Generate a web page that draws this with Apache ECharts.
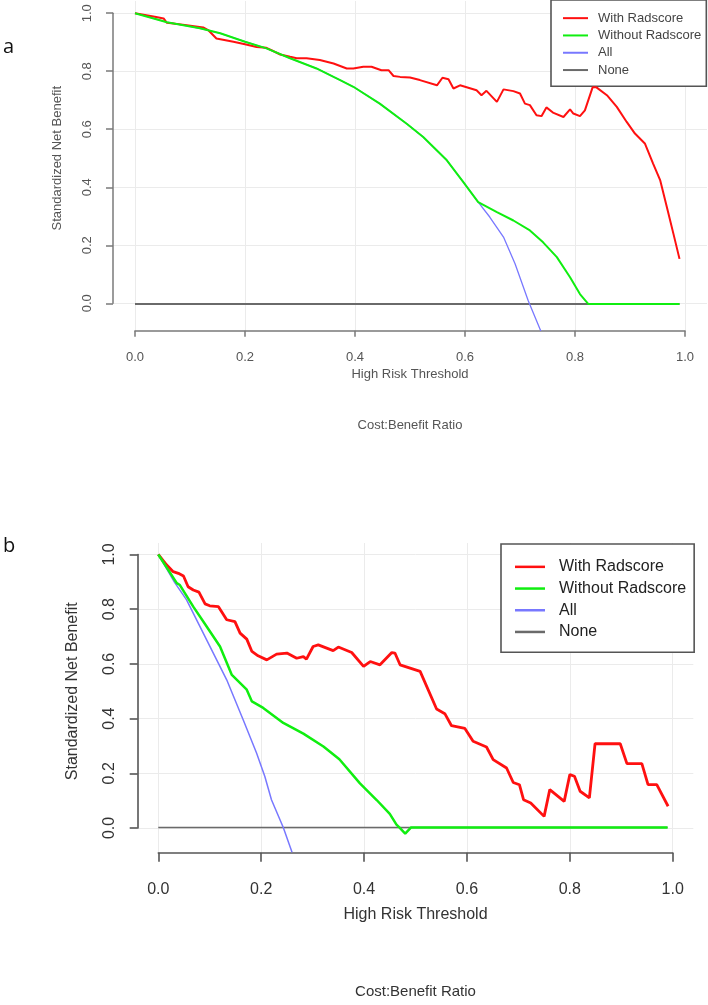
<!DOCTYPE html>
<html>
<head>
<meta charset="utf-8">
<script src="https://cdn.jsdelivr.net/npm/echarts@6/dist/echarts.min.js"></script>
<style>
html,body{margin:0;padding:0;background:#fff;}
#chart{width:708px;height:1005px;}
</style>
</head>
<body>
<div id="chart"></div>
<script>
// ---------- DATA ----------
const seriesNames = ['With Radscore', 'Without Radscore', 'All', 'None'];
const seriesColors = ['#ff1010', '#10ee10', '#7878ff', '#6a6a6a'];
const xTicks = [0, 0.2, 0.4, 0.6, 0.8, 1.0];
const yTicks = [0, 0.2, 0.4, 0.6, 0.8, 1.0];

// Panel a
const aRedX = [0,.036,.052,.058,.094,.124,.133,.148,.179,.2,.221,.239,.248,.264,.282,.294,.312,.336,.361,.385,.397,.415,.430,.448,.461,.470,.482,.5,.518,.549,.559,.570,.579,.591,.621,.630,.639,.658,.670,.688,.700,.709,.718,.730,.739,.748,.761,.779,.791,.797,.809,.818,.832,.839,.858,.876,.894,.909,.927,.942,.955,.970,.979,.99];
const aRedY = [1.0,.988,.982,.967,.959,.951,.942,.913,.902,.893,.884,.881,.873,.858,.850,.845,.845,.839,.827,.810,.810,.816,.816,.804,.804,.784,.781,.779,.770,.752,.778,.773,.741,.752,.735,.718,.733,.695,.738,.732,.724,.689,.684,.649,.646,.676,.657,.643,.669,.655,.646,.666,.745,.745,.718,.678,.626,.586,.552,.483,.425,.310,.241,.155];
const aGreenX = [0,.058,.118,.155,.2,.239,.282,.330,.361,.373,.397,.445,.494,.524,.567,.597,.624,.658,.688,.718,.742,.767,.791,.809,.824,.99];
const aGreenY = [1.0,.969,.948,.931,.902,.879,.845,.810,.781,.770,.747,.689,.620,.574,.494,.419,.350,.316,.287,.253,.212,.161,.092,.034,0,0];
const aBlueX = [0,.058,.118,.155,.2,.239,.282,.330,.361,.397,.445,.494,.524,.567,.597,.624,.645,.670,.691,.715,.738];
const aBlueY = [1.0,.969,.948,.931,.902,.879,.845,.810,.781,.747,.689,.620,.574,.494,.419,.350,.299,.230,.138,.011,-.094];
const aNoneX = [0, .99];
const aNoneY = [0, 0];

// Panel b
const bRedX = [0,.016,.029,.039,.049,.058,.068,.079,.091,.1,.117,.133,.149,.159,.172,.182,.194,.211,.230,.250,.269,.282,.288,.301,.311,.340,.350,.376,.399,.412,.431,.454,.460,.470,.509,.541,.557,.570,.596,.612,.638,.651,.677,.690,.702,.710,.724,.750,.761,.789,.800,.809,.820,.838,.849,.898,.911,.940,.952,.969,.991];
const bRedY = [1.0,.962,.937,.931,.921,.882,.870,.862,.819,.812,.809,.761,.754,.712,.690,.645,.629,.614,.635,.639,.620,.626,.617,.663,.669,.648,.661,.641,.590,.608,.596,.641,.639,.596,.572,.434,.417,.373,.363,.316,.295,.249,.218,.165,.157,.102,.090,.041,.139,.096,.194,.188,.133,.109,.307,.307,.234,.234,.157,.157,.078];
const bGreenX = [0,.036,.042,.068,.094,.12,.143,.172,.182,.204,.243,.282,.321,.352,.392,.425,.450,.463,.469,.480,.491,.99];
const bGreenY = [1.0,.895,.888,.809,.736,.663,.559,.505,.462,.438,.383,.344,.297,.250,.162,.100,.050,.011,0,-.022,0,0];
const bBlueX = [0,.032,.055,.094,.133,.165,.191,.207,.220,.243,.260];
const bBlueY = [1.0,.897,.834,.687,.541,.395,.273,.188,.102,0,-.090];
const bNoneX = [0, .99];
const bNoneY = [0, 0];

// ---------- BUILD ----------
function zip(xs, ys){ return xs.map((x,i)=>[x, ys[i]]); }
const FONT = '"Liberation Sans", Arial, sans-serif';

const panels = [
  { // a
    plot: {left:113, top:1, width:594, height:329.7},
    xg:   {left:135, top:1, width:550, height:329.7},
    yg:   {left:113, top:13.2, width:594, height:290.1},
    yRange: [-0.092, 1.042],
    font: 13, txt: '#555', axisCol: '#7a7a7a', axisW: 1.5,
    xTickLen: 6, yTickLen: 7, xLabMargin: 20, yLabMargin: 19,
    xNameGap: 37, yNameGap: 49,
    widths: [2, 2, 1.3, 2],
    series: [[aRedX,aRedY],[aGreenX,aGreenY],[aBlueX,aBlueY],[aNoneX,aNoneY]]
  },
  { // b
    plot: {left:137.7, top:543, width:555.6, height:309.7},
    xg:   {left:158.3, top:543, width:514.4, height:309.7},
    yg:   {left:137.7, top:554.5, width:555.6, height:273.5},
    yRange: [-0.092, 1.042],
    font: 16, txt: '#333', axisCol: '#555', axisW: 1.6,
    xTickLen: 9, yTickLen: 8, xLabMargin: 29, yLabMargin: 20,
    xNameGap: 54, yNameGap: 57,
    widths: [2.8, 2.5, 1.5, 1.6],
    series: [[bRedX,bRedY],[bGreenX,bGreenY],[bBlueX,bBlueY],[bNoneX,bNoneY]]
  }
];

const grid = [], xAxis = [], yAxis = [], series = [];
const gridCol = '#ebebeb';
panels.forEach((p, pi) => {
  const g0 = grid.length;
  grid.push(Object.assign({containLabel:false}, p.plot));
  grid.push(Object.assign({containLabel:false}, p.xg));
  grid.push(Object.assign({containLabel:false}, p.yg));
  // plot grid axes (hidden)
  xAxis.push({gridIndex:g0, type:'value', min:-0.04, max:1.04, show:false});
  yAxis.push({gridIndex:g0, type:'value', min:p.yRange[0], max:p.yRange[1], show:false});
  // x axis grid
  xAxis.push({
    gridIndex:g0+1, type:'value', min:xTicks[0], max:xTicks[xTicks.length-1], interval:0.2,
    name:'High Risk Threshold', nameLocation:'middle', nameGap:p.xNameGap,
    nameTextStyle:{fontSize:p.font, color:p.txt, fontFamily:FONT},
    axisLine:{show:true, onZero:false, lineStyle:{color:p.axisCol, width:p.axisW}},
    axisTick:{show:true, length:p.xTickLen, lineStyle:{color:p.axisCol, width:p.axisW}},
    axisLabel:{show:true, margin:p.xLabMargin, fontSize:p.font, color:p.txt, fontFamily:FONT,
      formatter: v => v.toFixed(1), showMinLabel:true, showMaxLabel:true},
    splitLine:{show:true, lineStyle:{color:gridCol, width:1}}
  });
  yAxis.push({gridIndex:g0+1, type:'value', min:0, max:1, show:false});
  // y axis grid
  xAxis.push({gridIndex:g0+2, type:'value', min:0, max:1, show:false});
  yAxis.push({
    gridIndex:g0+2, type:'value', min:yTicks[0], max:yTicks[yTicks.length-1], interval:0.2,
    name:'Standardized Net Benefit', nameLocation:'middle', nameGap:p.yNameGap,
    nameTextStyle:{fontSize:p.font, color:p.txt, fontFamily:FONT},
    axisLine:{show:true, onZero:false, lineStyle:{color:p.axisCol, width:p.axisW}},
    axisTick:{show:true, length:p.yTickLen, lineStyle:{color:p.axisCol, width:p.axisW}},
    axisLabel:{show:true, rotate:90, margin:p.yLabMargin, fontSize:p.font, color:p.txt, fontFamily:FONT,
      formatter: v => v.toFixed(1), showMinLabel:true, showMaxLabel:true},
    splitLine:{show:true, lineStyle:{color:gridCol, width:1}}
  });
  // series: draw order None, All, With, Without
  [3, 2, 0, 1].forEach(si => {
    const [xs, ys] = p.series[si];
    series.push({
      name: seriesNames[si], type:'line', xAxisIndex:g0, yAxisIndex:g0,
      data: zip(xs, ys), showSymbol:false, symbol:'none', clip:true,
      itemStyle:{color:seriesColors[si]},
      lineStyle:{color:seriesColors[si], width:p.widths[si]},
      z: 3 + [3,2,0,1].indexOf(si), silent:true, animation:false
    });
  });
});

const legendItems = seriesNames.map((n,i)=>({name:n, itemStyle:{color:seriesColors[i]}}));
const legend = [
  {
    data: legendItems, orient:'vertical', left:551, top:0,
    padding:[9.5,5,7.5,12], itemGap:0, itemWidth:25, itemHeight:2, icon:'rect',
    selectedMode:false, backgroundColor:'#fff', borderColor:'#555', borderWidth:1.6,
    textStyle:{fontSize:13, color:'#444', fontFamily:FONT, lineHeight:17.3, padding:[0,0,0,5]}
  },
  {
    data: legendItems, orient:'vertical', left:501, top:544,
    padding:[12,8,9.5,14], itemGap:0, itemWidth:30, itemHeight:2.5, icon:'rect',
    selectedMode:false, backgroundColor:'#fff', borderColor:'#555', borderWidth:1.6,
    textStyle:{fontSize:16, color:'#222', fontFamily:FONT, lineHeight:21.7, padding:[0,0,0,9]}
  }
];

const graphic = [
  {type:'text', left:3, top:37, style:{text:'a', fontSize:20, fill:'#111', fontFamily:'"Open Sans", sans-serif'}},
  {type:'text', left:3, top:536, style:{text:'b', fontSize:20, fill:'#111', fontFamily:'"Open Sans", sans-serif'}},
  {type:'text', x:410, y:425, style:{text:'Cost:Benefit Ratio', fontSize:13, fill:'#555', fontFamily:FONT, align:'center', verticalAlign:'middle'}},
  {type:'text', x:415.5, y:992, style:{text:'Cost:Benefit Ratio', fontSize:15, fill:'#333', fontFamily:FONT, align:'center', verticalAlign:'middle'}}
];

const chart = echarts.init(document.getElementById('chart'), null, {renderer:'canvas'});
chart.setOption({
  backgroundColor:'#fff', animation:false,
  grid, xAxis, yAxis, series, legend, graphic
});
</script>
</body>
</html>
